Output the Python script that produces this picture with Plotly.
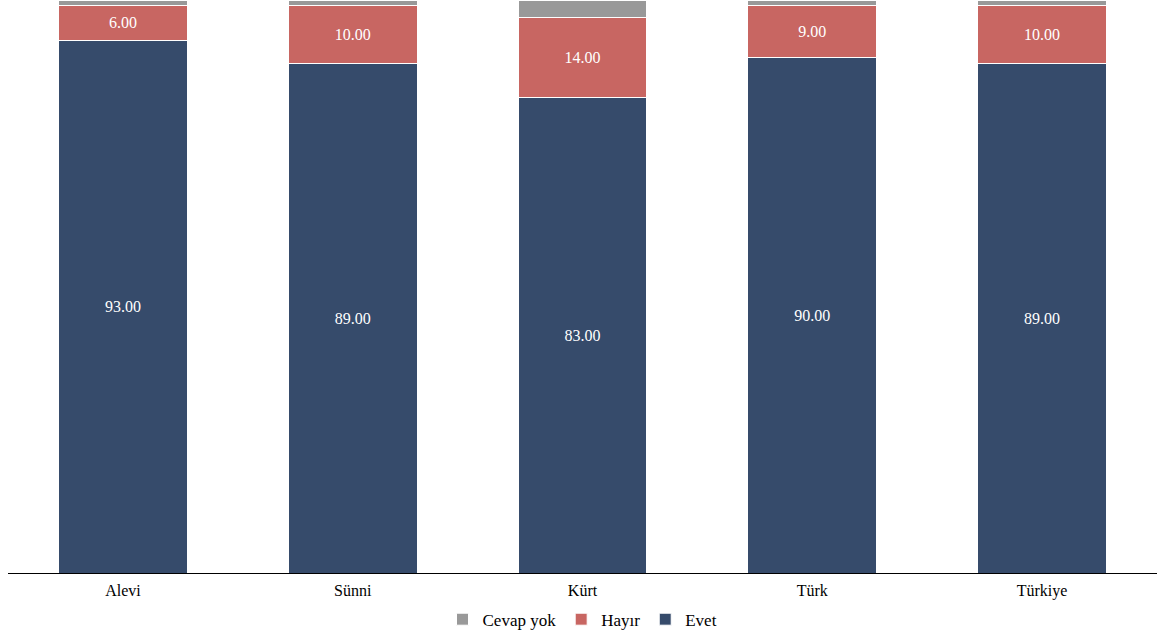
import plotly.graph_objects as go

categories = ["Alevi", "Sünni", "Kürt", "Türk", "Türkiye"]
evet = [93, 89, 83, 90, 89]
hayir = [6, 10, 14, 9, 10]
cevap_yok = [1, 1, 3, 1, 1]

font_family = "Liberation Serif"

fig = go.Figure()
fig.add_trace(go.Bar(
    x=categories, y=evet, name="Evet",
    marker=dict(color="#364B6B", line=dict(color="white", width=1)),
    texttemplate="%{y:.2f}", textposition="inside", insidetextanchor="middle",
    textfont=dict(color="white", size=16, family=font_family),
))
fig.add_trace(go.Bar(
    x=categories, y=hayir, name="Hayır",
    marker=dict(color="#C86662", line=dict(color="white", width=1)),
    texttemplate="%{y:.2f}", textposition="inside", insidetextanchor="middle",
    textfont=dict(color="white", size=16, family=font_family),
))
fig.add_trace(go.Bar(
    x=categories, y=cevap_yok, name="Cevap yok",
    marker=dict(color="#999999", line=dict(color="white", width=1)),
    textposition="none",
))

fig.update_layout(
    barmode="stack",
    bargap=0.44,
    width=1165, height=638,
    margin=dict(l=8, r=8, t=0, b=62),
    plot_bgcolor="white", paper_bgcolor="white",
    font=dict(family=font_family, size=16, color="black"),
    showlegend=True,
    legend=dict(orientation="h", x=0.5, xanchor="center", y=-0.05, yanchor="top",
                traceorder="reversed", font=dict(size=17, family=font_family)),
    xaxis=dict(showline=True, linecolor="black", linewidth=1, ticks="",
               ticklabelstandoff=3,
               tickfont=dict(size=16, family=font_family)),
    yaxis=dict(range=[0, 100], visible=False, showgrid=False),
    uniformtext=dict(mode="show", minsize=10),
)

fig.write_html("out.html", config={"displayModeBar": False},
               post_script="document.body.style.margin='0px';")
